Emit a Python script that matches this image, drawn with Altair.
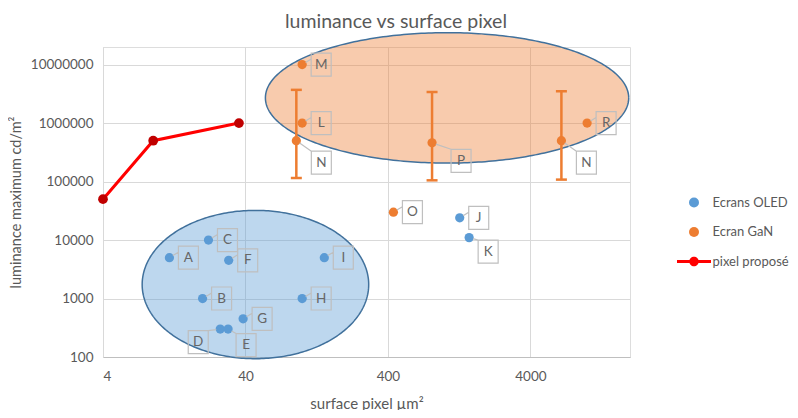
import math
import altair as alt
import numpy as np
import pandas as pd

# ---------------- data ----------------
chart_title = "luminance vs surface pixel"
series_names = ["Ecrans OLED", "Ecran GaN", "pixel proposé"]
series_colors = ["#5b9bd5", "#ed7d31", "#ff0000"]

oled_labels = ["A", "B", "C", "D", "E", "F", "G", "H", "I", "J", "K"]
oled_x = [11.7, 20, 22, 26.6, 30.2, 30.5, 38.5, 100, 143, 1276, 1486]
oled_y = [5000, 1000, 10000, 300, 300, 4500, 450, 1000, 5000, 24000, 11000]

gan_labels = ["M", "L", "N", "O", "P", "N", "R"]
gan_x = [100, 100, 91, 437, 816, 6600, 10000]
gan_y = [1e7, 1e6, 5e5, 30000, 4.6e5, 5e5, 1e6]

err_x = [91, 816, 6600]
err_low = [1.15e5, 1.05e5, 1.08e5]
err_high = [3.7e6, 3.4e6, 3.5e6]

prop_x = [4, 9, 36]
prop_y = [50000, 500000, 1000000]

# annotation ellipses: centre (log10 x, log10 y), radii in decades
ell_blue = (1.672, 3.239, 0.795, 1.268)
ell_orange = (3.017, 6.431, 1.275, 1.115)

# ---------------- layout (label offsets in px) ----------------
oled_label_off = [(19, 0), (19, 0), (19, 0), (-22, 13), (18, 16), (19, 0),
                  (19, 0), (19, 0), (19, 0), (19, 0), (19, 14)]
gan_label_off = [(19, 0), (19, 0), (25, 22), (19, 0), (29, 18), (25, 22), (19, 0)]

FONT = "Lato"
GREY = "#595959"

pts = pd.DataFrame({
    "label": oled_labels + gan_labels,
    "x": oled_x + gan_x,
    "y": oled_y + gan_y,
    "series": ["Ecrans OLED"] * len(oled_labels) + ["Ecran GaN"] * len(gan_labels),
    "off": [f"{a},{b}" for a, b in oled_label_off + gan_label_off],
})
err = pd.DataFrame({"x": err_x, "lo": err_low, "hi": err_high})
prop = pd.DataFrame({"x": prop_x, "y": prop_y})


def ellipse_frames(p, n=160):
    cx, cy, rx, ry = p
    t = np.linspace(0, np.pi, n)
    area = pd.DataFrame({
        "x": 10 ** (cx + rx * np.cos(t)),
        "yu": 10 ** (cy + ry * np.sin(t)),
        "yl": 10 ** (cy - ry * np.sin(t)),
    })
    t2 = np.linspace(0, 2 * np.pi, 2 * n)
    outline = pd.DataFrame({
        "x": 10 ** (cx + rx * np.cos(t2)),
        "y": 10 ** (cy + ry * np.sin(t2)),
        "t": t2,
    })
    return area, outline


xs = alt.Scale(type="log", domain=[4, 20000], nice=False)
ys = alt.Scale(type="log", domain=[100, 2e7], nice=False)

x_axis = alt.Axis(values=[4, 40, 400, 4000], format="d", ticks=False,
                  labelPadding=12, grid=True, gridColor="#d9d9d9",
                  domainColor="#bfbfbf", labelFont=FONT, labelFontSize=13.5,
                  labelColor=GREY, title="surface pixel µm²", titleFont=FONT,
                  titleFontSize=15, titleFontWeight="normal", titleColor=GREY,
                  titleY=46, titleBaseline="middle")
y_axis = alt.Axis(values=[100, 1000, 10000, 100000, 1000000, 10000000],
                  format="d", ticks=False, labelPadding=10, grid=True,
                  gridColor="#d9d9d9", domainColor="#d9d9d9", labelFont=FONT,
                  labelFontSize=13.5, labelColor=GREY,
                  title="luminance maximum cd/m²", titleFont=FONT,
                  titleFontSize=14.5, titleFontWeight="normal", titleColor=GREY,
                  titleX=-87, titleBaseline="middle")


def X(f="x"):
    return alt.X(f"{f}:Q", scale=xs, axis=x_axis)


def Y(f="y"):
    return alt.Y(f"{f}:Q", scale=ys, axis=y_axis)


layers = []
for p, col in ((ell_blue, "#5b9bd5"), (ell_orange, "#ed7d31")):
    a, o = ellipse_frames(p)
    layers.append(alt.Chart(a).mark_area(color=col, opacity=0.4).encode(
        x=X(), y=Y("yu"), y2="yl:Q"))
    layers.append(alt.Chart(o).mark_line(color="#41719c", strokeWidth=1.5).encode(
        x=X(), y=Y(), order="t:Q"))

# error bars
layers.append(alt.Chart(err).mark_rule(color="#ed7d31", strokeWidth=2.5).encode(
    x=X(), y=Y("lo"), y2="hi:Q"))
for f in ("lo", "hi"):
    layers.append(alt.Chart(err).mark_tick(color="#ed7d31", orient="horizontal",
                                           size=11, thickness=2.5, opacity=1).encode(
        x=X(), y=Y(f)))

# proposed pixel line
layers.append(alt.Chart(prop).mark_line(color="#ff0000", strokeWidth=3).encode(x=X(), y=Y()))
layers.append(alt.Chart(prop).mark_point(filled=True, color="#c00000", size=95,
                                         opacity=1).encode(x=X(), y=Y()))

line_sym = ("M-3.4,-0.28H3.4V0.28H-3.4Z"
            "M0.95,0A0.95,0.95 0 1,1 -0.95,0A0.95,0.95 0 1,1 0.95,0Z")

layers.append(alt.Chart(pts).mark_point(filled=True, size=85, opacity=1).encode(
    x=X(), y=Y(),
    color=alt.Color("series:N", scale=alt.Scale(domain=series_names, range=series_colors),
                    legend=alt.Legend(orient="none", legendX=584.5, legendY=149,
                                      title=None, symbolSize=100, labelOffset=12,
                                      rowPadding=15.5, labelFont=FONT, labelFontSize=13,
                                      labelColor=GREY, padding=0,
                                      symbolStrokeWidth=0)),
    shape=alt.Shape("series:N", scale=alt.Scale(domain=series_names,
                                                range=["circle", "circle", line_sym])),
))


def callout(dx, dy, hw=10, hh=11.5):
    x0, x1, y0, y1 = dx - hw, dx + hw, dy - hh, dy + hh
    tx = min(max(0, x0), x1)
    ty = min(max(0, y0), y1)
    if y0 < 0 < y1:
        ty = y0 + 6
    d = math.hypot(tx, ty)
    sx, sy = tx / d * 4, ty / d * 4
    return (f"M{sx:.2f},{sy:.2f}L{tx:.2f},{ty:.2f}"
            f"M{x0},{y0}H{x1}V{y1}H{x0}Z")


for off in pts["off"].unique():
    dx, dy = (float(v) for v in off.split(","))
    sub = pts[pts["off"] == off]
    layers.append(alt.Chart(sub).mark_point(shape=callout(dx, dy), size=4,
                                            filled=False, stroke="#bfbfbf",
                                            strokeWidth=1.2, opacity=1).encode(
        x=X(), y=Y()))
    layers.append(alt.Chart(sub).mark_text(dx=dx, dy=dy, font=FONT, fontSize=13.5,
                                           color="#666666", align="center",
                                           baseline="middle").encode(
        x=X(), y=Y(), text="label:N"))

# chart title (placed relative to the plot area)
layers.append(alt.Chart(pd.DataFrame({"t": [chart_title]})).mark_text(
    font=FONT, fontSize=19.5, color=GREY, align="center", baseline="alphabetic").encode(
    x=alt.value(293), y=alt.value(-19), text="t:N"))

chart = alt.layer(*layers).properties(
    width=527, height=310,
    autosize=alt.AutoSizeParams(type="none"),
    padding={"left": 95, "top": 39, "right": 160, "bottom": 53},
).configure_view(stroke=None).configure(background="white")

chart.save("out.html", embed_options={"renderer": "svg", "actions": False})
